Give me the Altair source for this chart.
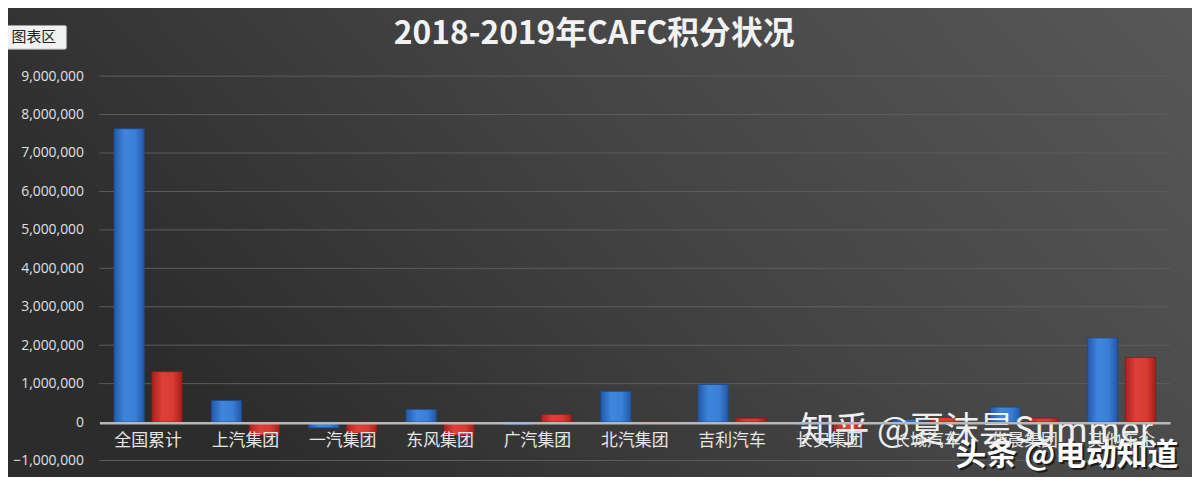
import altair as alt
import pandas as pd

categories = ["全国累计", "上汽集团", "一汽集团", "东风集团", "广汽集团", "北汽集团",
              "吉利汽车", "长安集团", "长城汽车", "华晨集团", "其他车企"]
series_names = ["2018年", "2019年"]
values_2018 = [7630000, 560000, -150000, 330000, -70000, 800000,
               980000, -60000, 60000, 390000, 2190000]
values_2019 = [1310000, -340000, -290000, -340000, 200000, -30000,
               100000, -230000, 120000, 100000, 1680000]
y_ticks = [-1000000, 0, 1000000, 2000000, 3000000, 4000000, 5000000,
           6000000, 7000000, 8000000, 9000000]

FONT = "Noto Sans CJK SC"
W, H = 1078, 387

rows = []
for c, a, b in zip(categories, values_2018, values_2019):
    rows.append({"cat": c, "series": series_names[0], "value": a})
    rows.append({"cat": c, "series": series_names[1], "value": b})
df = pd.DataFrame(rows)
grid_df = pd.DataFrame({"value": [t for t in y_ticks if t != 0]})
one = pd.DataFrame({"a": [0]})

yscale = alt.Scale(domain=[-1000000, 9000000], nice=False, zero=False)
yaxis = alt.Axis(values=y_ticks, format=",.0f", grid=False, domain=False,
                 ticks=False, labelPadding=16, labelFontSize=14,
                 labelColor="#e0e0e0", labelFont="Open Sans", zindex=1)
yenc = alt.Y("value:Q", scale=yscale, title=None, axis=yaxis)

bg = alt.Chart(one).mark_rect(
    color=alt.Gradient(gradient="linear", x1=0, y1=0.4, x2=1, y2=0,
                       stops=[alt.GradientStop(color="#2c2c2c", offset=0),
                              alt.GradientStop(color="#454545", offset=0.5),
                              alt.GradientStop(color="#585858", offset=1)])
).encode(x=alt.value(-100), x2=alt.value(W + 30), y=alt.value(-80), y2=alt.value(H + 30))

grid = alt.Chart(grid_df).mark_rule(color="#5e5e5e", strokeWidth=1).encode(y=yenc)

xenc = alt.X("cat:N", sort=categories, title=None,
             scale=alt.Scale(paddingInner=0.3, paddingOuter=0.15),
             axis=alt.Axis(offset=-38, domainColor="#b8b8b8", domainWidth=2.5,
                           ticks=False, labelPadding=10, labelFontSize=17,
                           labelColor="#e6e6e6", labelFont=FONT, labelAngle=0,
                           zindex=1))
off = alt.XOffset("series:N", sort=series_names, scale=alt.Scale(paddingInner=0.2))

blue = alt.Chart(df).transform_filter(alt.datum.series == series_names[0]).mark_bar(
    color=alt.Gradient(gradient="linear", x1=0, y1=0, x2=1, y2=0,
                       stops=[alt.GradientStop(color="#2458a8", offset=0),
                              alt.GradientStop(color="#3f86de", offset=0.35),
                              alt.GradientStop(color="#3a7fd6", offset=0.7),
                              alt.GradientStop(color="#2356a3", offset=1)]),
    stroke="#1d4a8c", strokeWidth=0.8
).encode(x=xenc, xOffset=off, y=yenc, y2=alt.datum(0))

red = alt.Chart(df).transform_filter(alt.datum.series == series_names[1]).mark_bar(
    color=alt.Gradient(gradient="linear", x1=0, y1=0, x2=1, y2=0,
                       stops=[alt.GradientStop(color="#a8231f", offset=0),
                              alt.GradientStop(color="#dd4038", offset=0.35),
                              alt.GradientStop(color="#d83b33", offset=0.7),
                              alt.GradientStop(color="#a3201c", offset=1)]),
    stroke="#8a1a16", strokeWidth=0.8
).encode(x=xenc, xOffset=off, y=yenc, y2=alt.datum(0))

title = alt.Chart(one).mark_text(
    text="2018-2019年CAFC积分状况", font=FONT, fontSize=32, fontWeight="bold",
    color="#f2f2f2", align="center", baseline="middle"
).encode(x=alt.value(498), y=alt.value(-42))

box = alt.Chart(one).mark_rect(fill="#f2f2f2", stroke="#9a9a9a", strokeWidth=1,
                                cornerRadius=2).encode(
    x=alt.value(-99), x2=alt.value(-33), y=alt.value(-51), y2=alt.value(-27))
box_text = alt.Chart(one).mark_text(
    text="图表区", font=FONT, fontSize=15, color="#222222",
    align="center", baseline="middle"
).encode(x=alt.value(-66), y=alt.value(-39))

wm1 = alt.Chart(one).mark_text(
    text="知乎 @夏沫昙Summer", font=FONT, fontSize=35, color="#ffffff",
    opacity=0.92, align="left", baseline="middle"
).encode(x=alt.value(705), y=alt.value(357))
wm2_shadow = alt.Chart(one).mark_text(
    text="头条 @电动知道", font=FONT, fontSize=31, fontWeight="bold", color="#000000",
    opacity=0.6, align="left", baseline="middle"
).encode(x=alt.value(864), y=alt.value(385))
wm2 = alt.Chart(one).mark_text(
    text="头条 @电动知道", font=FONT, fontSize=31, fontWeight="bold", color="#ffffff",
    align="left", baseline="middle"
).encode(x=alt.value(862), y=alt.value(383))

chart = alt.layer(bg, grid, blue, red, title, box, box_text, wm1, wm2_shadow, wm2).properties(
    width=W, height=H,
    autosize=alt.AutoSizeParams(type="none"),
    padding={"left": 92, "top": 67, "right": 22, "bottom": 15},
    background="#3c3c3c",
).configure_view(stroke=None)

chart.save("out.html", embed_options={"renderer": "svg", "actions": False})
